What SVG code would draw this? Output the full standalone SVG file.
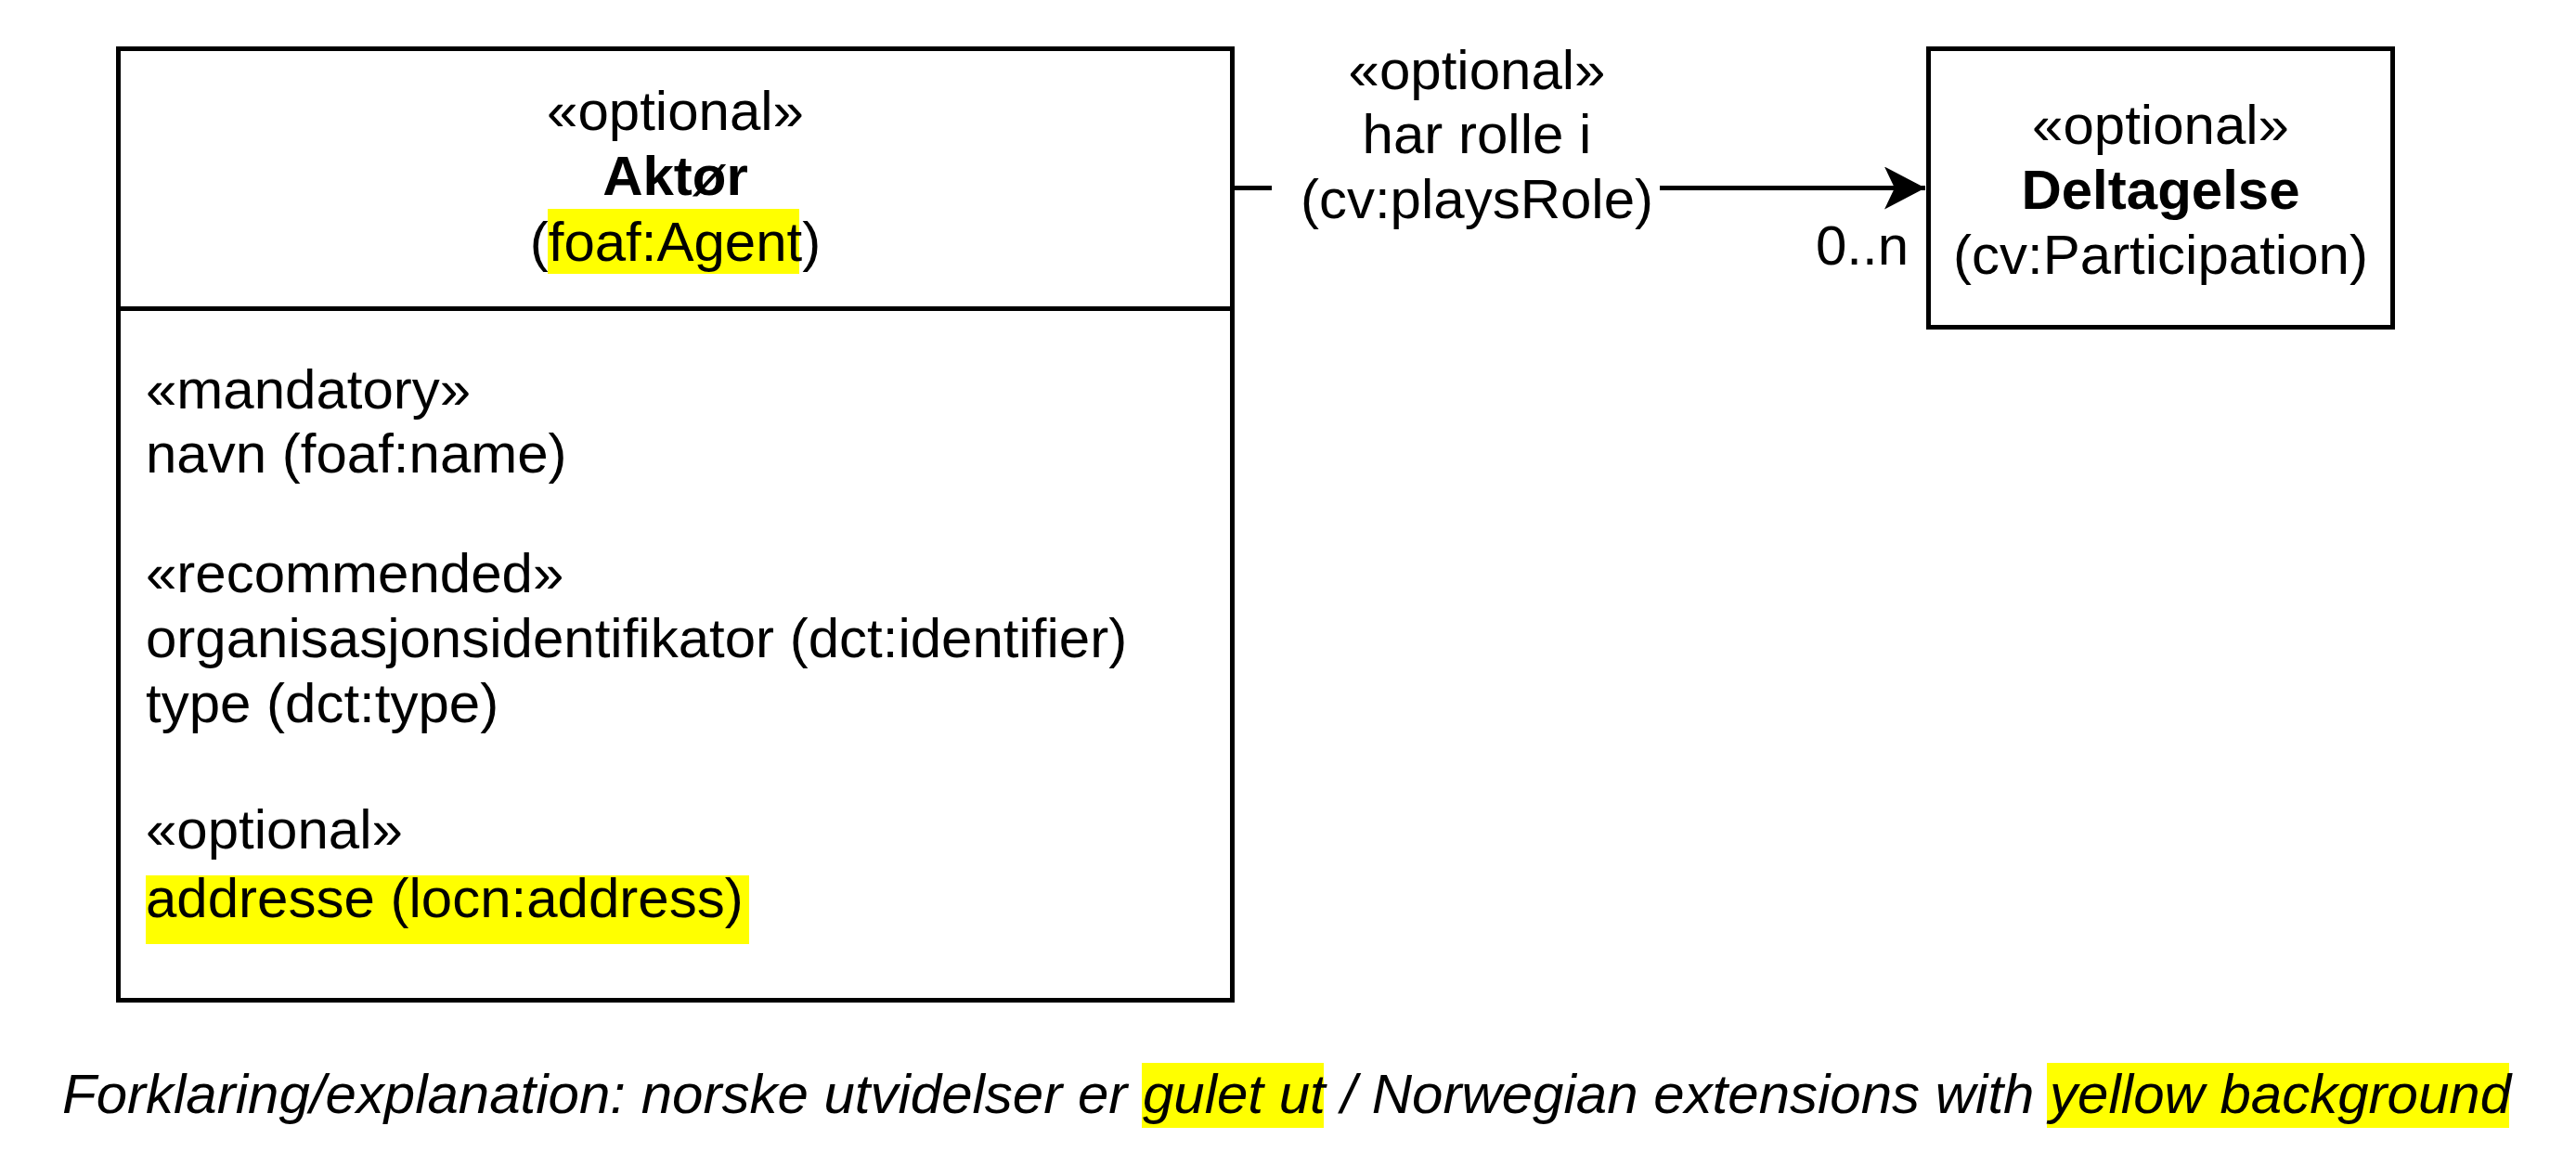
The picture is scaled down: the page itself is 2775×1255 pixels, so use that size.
<svg xmlns="http://www.w3.org/2000/svg" width="2775" height="1255" viewBox="0 0 2775 1255">
<style>
.box{fill:#fff;stroke:#000;stroke-width:5}
.t{font-family:"Liberation Sans",Arial,sans-serif;font-size:60px;fill:#000}
.c{text-anchor:middle}
.b{font-weight:bold}
.hl{fill:#ffff00}
.edge{fill:none;stroke:#000;stroke-width:5}
</style>
<defs>
<marker id="arrow" markerUnits="userSpaceOnUse" markerWidth="50" markerHeight="50" viewBox="0 0 50 50" refX="44" refY="23" orient="auto">
<path d="M0,0 L44,23 L0,46 L11,23 Z" fill="#000"/>
</marker>
</defs>
<rect width="2775" height="1255" fill="#fff"/>
<g id="connectors">
<g id="edge-playsRole">
<path class="edge" d="M1327.5,202.5 L2074,202.5" marker-end="url(#arrow)"/>
<rect x="1370" y="55" width="418" height="195" fill="#fff"/>
<text class="t c" x="1591" y="96">«optional»</text>
<text class="t c" x="1591" y="165">har rolle i</text>
<text class="t c" x="1591" y="235">(cv:playsRole)</text>
<text class="t" x="2056" y="285" text-anchor="end">0..n</text>
</g>
</g>
<g id="node-aktor">
<rect class="box" x="127.5" y="52.5" width="1200" height="1025"/>
<line x1="127.5" y1="332.5" x2="1327.5" y2="332.5" stroke="#000" stroke-width="5"/>
<rect class="hl" x="590" y="225" width="271" height="70"/>
<text class="t c" x="727.5" y="140">«optional»</text>
<text class="t c b" x="727.5" y="210">Aktør</text>
<text class="t c" x="727.5" y="281">(foaf:Agent)</text>
<text class="t" x="157" y="440">«mandatory»</text>
<text class="t" x="157" y="509">navn (foaf:name)</text>
<text class="t" x="157" y="638">«recommended»</text>
<text class="t" x="157" y="708">organisasjonsidentifikator (dct:identifier)</text>
<text class="t" x="157" y="778">type (dct:type)</text>
<text class="t" x="157" y="914">«optional»</text>
<rect class="hl" x="157" y="943" width="650" height="74"/>
<text class="t" x="157" y="988">addresse (locn:address)</text>
</g>
<g id="node-deltagelse">
<rect class="box" x="2077.5" y="52.5" width="500" height="300"/>
<text class="t c" x="2327.5" y="155">«optional»</text>
<text class="t c b" x="2327.5" y="225">Deltagelse</text>
<text class="t c" x="2327.5" y="295">(cv:Participation)</text>
</g>
<g id="legend">
<rect class="hl" x="1230" y="1145" width="196" height="70"/>
<rect class="hl" x="2205" y="1145" width="498" height="70"/>
<text class="t" x="67" y="1199" font-style="italic">Forklaring/explanation: norske utvidelser er gulet ut / Norwegian extensions with yellow background</text>
</g>
</svg>
